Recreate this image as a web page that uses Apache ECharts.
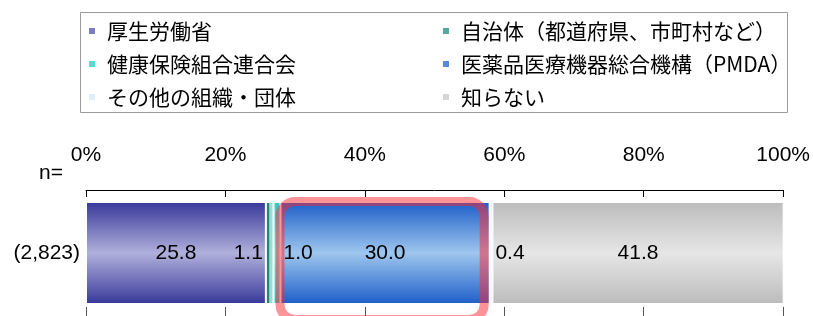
<!DOCTYPE html>
<html>
<head>
<meta charset="utf-8">
<script src="https://cdn.jsdelivr.net/npm/echarts@6/dist/echarts.min.js"></script>
<style>
  html, body { margin: 0; padding: 0; background: #fff; }
  #chart { width: 813px; height: 316px; }
</style>
</head>
<body>
<div id="chart"></div>
<script>
// データ
const categories = ['(2,823)'];
const seriesNames = ['厚生労働省', '自治体（都道府県、市町村など）', '健康保険組合連合会', '医薬品医療機器総合機構（PMDA）', 'その他の組織・団体', '知らない'];
const values = [25.8, 1.1, 1.0, 30.0, 0.4, 41.8];
const highlightIndex = 3; // 強調枠 (PMDA)

// 各系列の色 (上下が濃いグラデーション)
const edgeColors = ['#38389a', '#23857a', '#2fc8c8', '#1d5ec8', '#c8e2f6', '#bcbcbc'];
const midColors = ['#b0b0dc', '#a6d8d2', '#7ee6e2', '#9ec6ee', '#eef7fe', '#e6e6e6'];
// 凡例アイコンの色
const legendColors = ['#7c7cc0', '#58a8a0', '#5ad8d2', '#5a8ade', '#dceefc', '#d6d6d6'];
// 小さい値のラベル位置
const labelPos = ['inside', 'left', 'right', 'inside', 'right', 'inside'];

const numFont = '"Liberation Sans", Arial, sans-serif';
const jpFont = '"Noto Sans CJK JP", sans-serif';

function barGradient(i) {
  if (i === 1) {
    // 自治体は左右に色が分かれて見える
    return new echarts.graphic.LinearGradient(0, 0, 1, 0, [
      { offset: 0, color: edgeColors[i] },
      { offset: 0.35, color: edgeColors[i] },
      { offset: 0.5, color: midColors[i] },
      { offset: 1, color: midColors[i] }
    ]);
  }
  return new echarts.graphic.LinearGradient(0, 0, 0, 1, [
    { offset: 0, color: edgeColors[i] },
    { offset: 0.5, color: midColors[i] },
    { offset: 1, color: edgeColors[i] }
  ]);
}

const series = seriesNames.map(function (name, i) {
  return {
    name: name,
    type: 'bar',
    stack: 'total',
    barWidth: 102,
    data: [values[i]],
    itemStyle: {
      color: barGradient(i),
      borderColor: '#fff',
      borderWidth: 1
    },
    label: {
      show: true,
      position: labelPos[i],
      distance: 3,
      color: '#000',
      fontFamily: numFont,
      fontSize: 21,
      formatter: function (p) { return p.value.toFixed(1); }
    }
  };
});

const legendText = {
  color: '#000',
  fontFamily: jpFont,
  fontSize: 21,
  lineHeight: 22,
  padding: [0, 0, 0, 6]
};

function legendData(idx) {
  return idx.map(function (i) {
    return { name: seriesNames[i], itemStyle: { color: legendColors[i] } };
  });
}

const option = {
  animation: false,
  backgroundColor: '#fff',
  title: {
    text: 'n=',
    left: 34,
    top: 158,
    textStyle: { fontFamily: numFont, fontSize: 21, fontWeight: 'normal', color: '#000' }
  },
  legend: [
    {
      orient: 'vertical',
      left: 87,
      top: 20,
      padding: 0,
      itemWidth: 8,
      itemHeight: 8,
      itemGap: 11,
      icon: 'rect',
      textStyle: legendText,
      data: legendData([0, 2, 4])
    },
    {
      orient: 'vertical',
      left: 441,
      top: 20,
      padding: 0,
      itemWidth: 8,
      itemHeight: 8,
      itemGap: 11,
      icon: 'rect',
      textStyle: legendText,
      data: legendData([1, 3, 5])
    }
  ],
  grid: { left: 86, right: 28, top: 190, height: 132 },
  xAxis: [
    {
      type: 'value',
      position: 'top',
      min: 0,
      max: 100,
      interval: 20,
      axisLine: { show: true, lineStyle: { color: '#000', width: 1 } },
      axisTick: { show: true, inside: true, length: 7, lineStyle: { color: '#000' } },
      axisLabel: { formatter: '{value}%', margin: 24, color: '#000', fontFamily: numFont, fontSize: 21 },
      splitLine: { show: false }
    },
    {
      type: 'value',
      position: 'bottom',
      min: 0,
      max: 100,
      interval: 20,
      axisLine: { show: false },
      axisTick: { show: true, inside: true, length: 9, lineStyle: { color: '#555' } },
      axisLabel: { show: false },
      splitLine: { show: false }
    }
  ],
  yAxis: {
    type: 'category',
    data: categories,
    axisLine: { show: false },
    axisTick: { show: false },
    axisLabel: { margin: 6, color: '#000', fontFamily: numFont, fontSize: 21 }
  },
  series: series,
  graphic: [
    {
      type: 'rect',
      shape: { x: 80.5, y: 12.5, width: 707, height: 100 },
      style: { fill: 'none', stroke: '#9a9a9a', lineWidth: 1 },
      silent: true
    }
  ]
};

const chart = echarts.init(document.getElementById('chart'), null, { renderer: 'canvas' });
chart.setOption(option);

// 強調枠 (PMDA の棒を赤い角丸枠で囲む)
let start = 0;
for (let i = 0; i < highlightIndex; i++) start += values[i];
const end = start + values[highlightIndex];
const p0 = chart.convertToPixel({ xAxisIndex: 0, yAxisIndex: 0 }, [start, categories[0]]);
const p1 = chart.convertToPixel({ xAxisIndex: 0, yAxisIndex: 0 }, [end, categories[0]]);
const lw = 9;
const outerLeft = p0[0] - 5;
const outerRight = p1[0] - 1;
const outerTop = p0[1] - 51 - 5;
chart.setOption({
  graphic: [
    option.graphic[0],
    {
      type: 'rect',
      z: 100,
      shape: {
        x: outerLeft + lw / 2,
        y: outerTop + lw / 2,
        width: outerRight - outerLeft - lw,
        height: 118,
        r: 15
      },
      style: { fill: 'none', stroke: 'rgba(255, 40, 50, 0.5)', lineWidth: lw },
      silent: true
    }
  ]
});
</script>
</body>
</html>
